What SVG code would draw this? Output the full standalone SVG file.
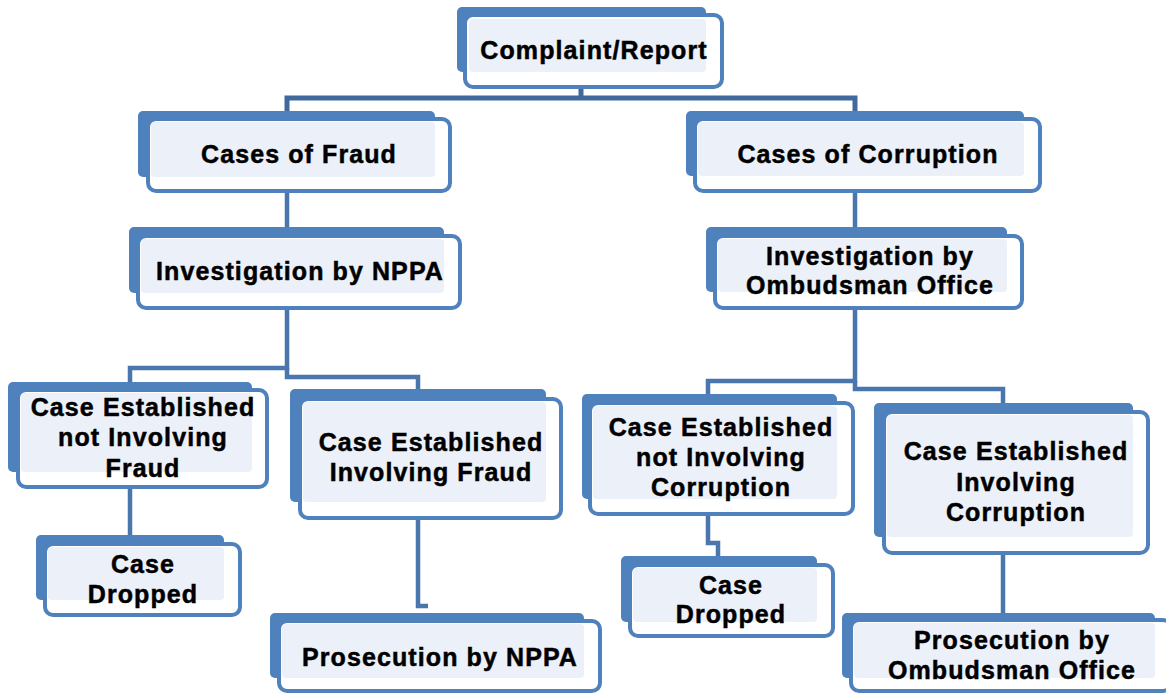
<svg xmlns="http://www.w3.org/2000/svg" width="1166" height="693" viewBox="0 0 1166 693">
<style>
.bk{fill:#4F81BD}
.ol{fill:#FFFFFF;stroke:#4F81BD;stroke-width:4}
.lt{fill:#ECF0F8}
.t{font-family:"Liberation Sans",Arial,sans-serif;font-weight:bold;font-size:25px;letter-spacing:1.1px;fill:#000;stroke:#000;stroke-width:0.5px;text-anchor:middle}
.c{fill:none;stroke:#4A76AE;stroke-width:4.5}
.c0{fill:none;stroke:#41699D;stroke-width:5}
</style>
<rect width="1166" height="693" fill="#FFFFFF"/>
<g id="connectors">
<polyline class="c0" points="581,85 581,98"/>
<polyline class="c0" points="287,111 287,98 855,98 855,111"/>
<polyline class="c" points="287,190 287,227"/>
<polyline class="c" points="855,190 855,227"/>
<polyline class="c" points="287,305 287,368 130,368 130,382"/>
<polyline class="c" points="287,368 287,377 418,377 418,389"/>
<polyline class="c" points="855,305 855,381 708,381 708,394"/>
<polyline class="c" points="855,381 855,389 1003,389 1003,403"/>
<polyline class="c" points="130,485 130,535"/>
<polyline class="c" points="418,515 418,606 428,606"/>
<polyline class="c" points="708,510 708,543 718,543 718,556"/>
<polyline class="c" points="1003,550 1003,613"/>
</g>
<g id="n1">
<rect class="bk" x="457" y="7" width="249" height="65" rx="5"/>
<rect class="ol" x="465" y="15" width="257" height="72" rx="8"/>
<rect class="lt" x="469" y="19" width="237" height="53" rx="4"/>
<text class="t" x="594" y="59">Complaint/Report</text>
</g>
<g id="n2">
<rect class="bk" x="138" y="111" width="297" height="66" rx="5"/>
<rect class="ol" x="148" y="119" width="302" height="72" rx="8"/>
<rect class="lt" x="151" y="122" width="284" height="55" rx="4"/>
<text class="t" x="299" y="163">Cases of Fraud</text>
</g>
<g id="n3">
<rect class="bk" x="129" y="227" width="315" height="66" rx="5"/>
<rect class="ol" x="138" y="236" width="322" height="72" rx="8"/>
<rect class="lt" x="141" y="239" width="303" height="54" rx="4"/>
<text class="t" x="300" y="280">Investigation by NPPA</text>
</g>
<g id="n4">
<rect class="bk" x="686" y="111" width="338" height="65" rx="5"/>
<rect class="ol" x="695" y="119" width="345" height="72" rx="8"/>
<rect class="lt" x="698" y="122" width="326" height="54" rx="4"/>
<text class="t" x="868" y="163">Cases of Corruption</text>
</g>
<g id="n5">
<rect class="bk" x="706" y="227" width="301" height="65" rx="5"/>
<rect class="ol" x="715" y="236" width="307" height="72" rx="8"/>
<rect class="lt" x="718" y="239" width="289" height="53" rx="4"/>
<text class="t" x="870" y="265">Investigation by</text>
<text class="t" x="870" y="294">Ombudsman Office</text>
</g>
<g id="n6">
<rect class="bk" x="8" y="382" width="244" height="90" rx="5"/>
<rect class="ol" x="18" y="390" width="249" height="97" rx="8"/>
<rect class="lt" x="21" y="393" width="231" height="79" rx="4"/>
<text class="t" x="143" y="416">Case Established</text>
<text class="t" x="143" y="446">not Involving</text>
<text class="t" x="143" y="477">Fraud</text>
</g>
<g id="n7">
<rect class="bk" x="36" y="535" width="188" height="65" rx="5"/>
<rect class="ol" x="45" y="544" width="195" height="71" rx="8"/>
<rect class="lt" x="48" y="547" width="176" height="53" rx="4"/>
<text class="t" x="143" y="573">Case</text>
<text class="t" x="143" y="603">Dropped</text>
</g>
<g id="n8">
<rect class="bk" x="290" y="389" width="256" height="113" rx="5"/>
<rect class="ol" x="300" y="399" width="261" height="119" rx="8"/>
<rect class="lt" x="303" y="402" width="243" height="100" rx="4"/>
<text class="t" x="431" y="451">Case Established</text>
<text class="t" x="431" y="481">Involving Fraud</text>
</g>
<g id="n9">
<rect class="bk" x="270" y="613" width="314" height="65" rx="5"/>
<rect class="ol" x="279" y="621" width="321" height="70" rx="8"/>
<rect class="lt" x="282" y="624" width="302" height="54" rx="4"/>
<text class="t" x="440" y="666">Prosecution by NPPA</text>
</g>
<g id="n10">
<rect class="bk" x="582" y="394" width="255" height="105" rx="5"/>
<rect class="ol" x="590" y="403" width="263" height="111" rx="8"/>
<rect class="lt" x="593" y="406" width="244" height="93" rx="4"/>
<text class="t" x="721" y="436">Case Established</text>
<text class="t" x="721" y="466">not Involving</text>
<text class="t" x="721" y="496">Corruption</text>
</g>
<g id="n11">
<rect class="bk" x="621" y="556" width="196" height="66" rx="5"/>
<rect class="ol" x="630" y="565" width="203" height="71" rx="8"/>
<rect class="lt" x="633" y="568" width="184" height="54" rx="4"/>
<text class="t" x="731" y="594">Case</text>
<text class="t" x="731" y="623">Dropped</text>
</g>
<g id="n12">
<rect class="bk" x="874" y="403" width="259" height="134" rx="5"/>
<rect class="ol" x="884" y="412" width="264" height="141" rx="8"/>
<rect class="lt" x="887" y="415" width="246" height="122" rx="4"/>
<text class="t" x="1016" y="460">Case Established</text>
<text class="t" x="1016" y="491">Involving</text>
<text class="t" x="1016" y="521">Corruption</text>
</g>
<g id="n13">
<rect class="bk" x="842" y="613" width="313" height="65" rx="5"/>
<rect class="ol" x="851" y="620" width="320" height="71" rx="8"/>
<rect class="lt" x="854" y="623" width="301" height="55" rx="4"/>
<text class="t" x="1012" y="649">Prosecution by</text>
<text class="t" x="1012" y="679">Ombudsman Office</text>
</g>
</svg>
